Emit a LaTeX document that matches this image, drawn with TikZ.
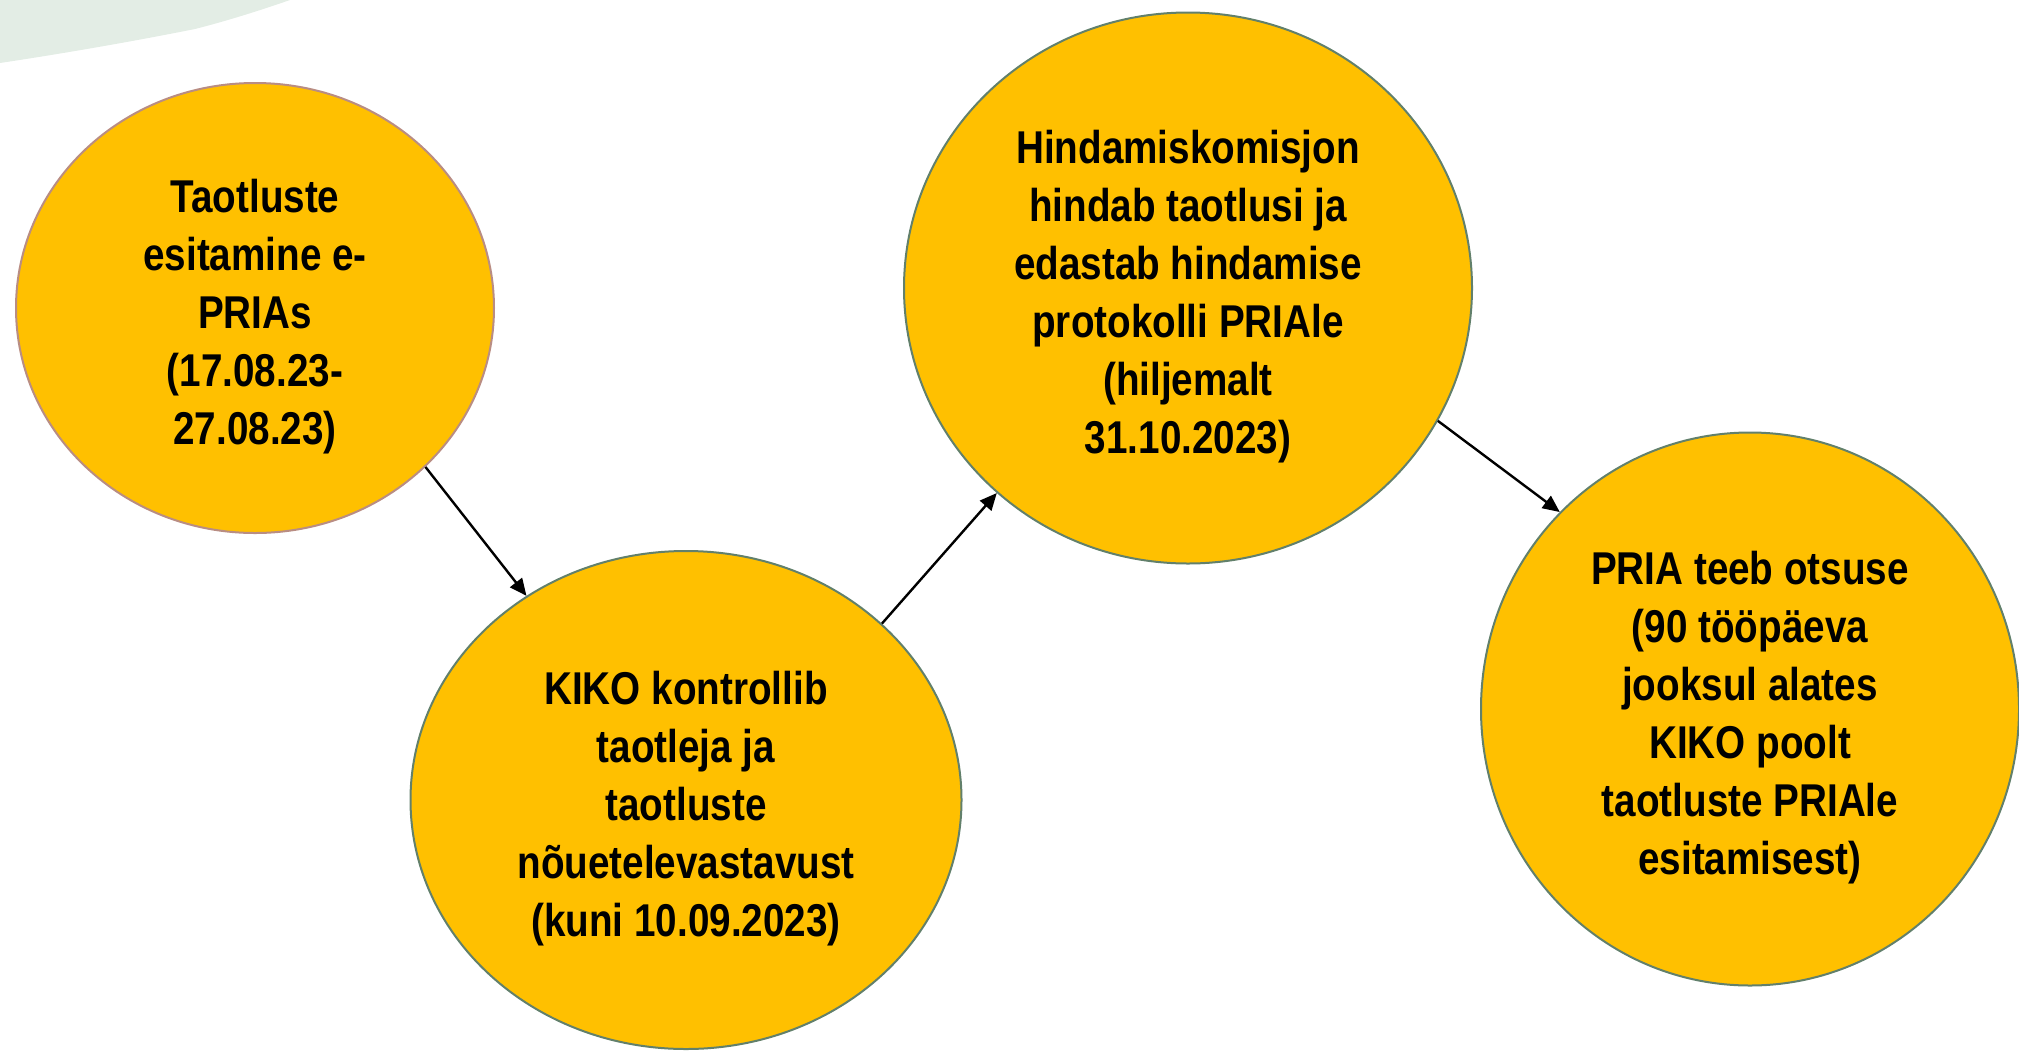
\documentclass[tikz,border=0pt]{standalone}
\usepackage{fontspec}
\setmainfont{Liberation Sans}[FakeStretch=0.84]
\usetikzlibrary{shapes.geometric}
\usetikzlibrary{arrows.meta}
\definecolor{kollane}{HTML}{FFC000}
\definecolor{servroheline}{HTML}{62806B}
\definecolor{servpruun}{HTML}{B98D83}
\definecolor{taust}{HTML}{E3EDE5}
\newcommand{\tugi}{\rule{0pt}{50pt}}

\begin{document}
\begin{tikzpicture}[x=1pt,y=-1pt,
  etapp/.style={ellipse,fill=kollane,draw=servroheline,line width=2pt,inner sep=0pt,align=center,font=\bfseries\fontsize{46}{58}\selectfont},
  nool/.style={line width=2.4pt,-{Triangle[length=17pt,width=15pt]}}]
\useasboundingbox (0,0) rectangle (2019,1050);
\fill[taust] (0,0) -- (290,0) .. controls (250,14) and (215,24) .. (195,29) .. controls (130,42) and (60,54) .. (0,63) -- cycle;

\node[etapp,draw=servpruun,minimum width=478pt,minimum height=450pt] (esitamine) at (255,308) {\tugi Taotluste\\esitamine e-\\PRIAs\\(17.08.23-\\27.08.23)};
\node[etapp,minimum width=551pt,minimum height=498pt] (kontroll) at (686,800) {\tugi KIKO kontrollib\\taotleja ja\\taotluste\\nõuetelevastavust\\(kuni 10.09.2023)};
\node[etapp,minimum width=568pt,minimum height=551pt] (hindamine) at (1188,288) {\tugi Hindamiskomisjon\\hindab taotlusi ja\\edastab hindamise\\protokolli PRIAle\\(hiljemalt\\31.10.2023)};
\node[etapp,minimum width=538pt,minimum height=553pt] (otsus) at (1750,709) {\tugi PRIA teeb otsuse\\(90 tööpäeva\\jooksul alates\\KIKO poolt\\taotluste PRIAle\\esitamisest)};

\draw[nool] (esitamine.-43) -- (kontroll.128);
\draw[nool] (kontroll.42) -- (hindamine.227);
\draw[nool] (hindamine.-28) -- (otsus.134);

\end{tikzpicture}
\end{document}
